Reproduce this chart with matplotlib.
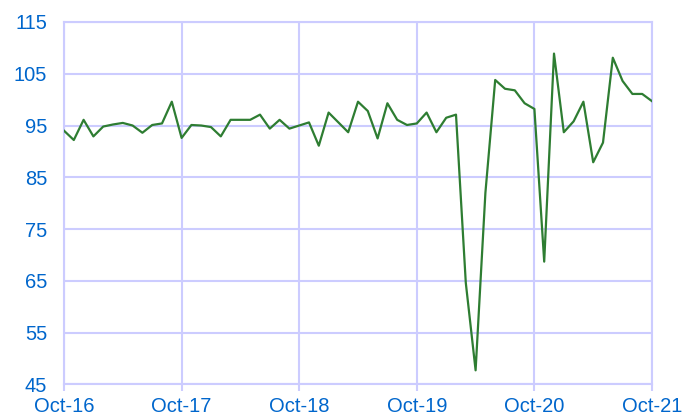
import matplotlib
matplotlib.use("Agg")
import matplotlib.pyplot as plt

# monthly index, Oct-16 .. Oct-21 (61 months)
values = [
    94.0, 92.2, 96.1, 92.9, 94.8, 95.2, 95.5, 95.0, 93.6, 95.1,
    95.4, 99.6, 92.6, 95.1, 95.0, 94.7, 92.9, 96.1, 96.1, 96.1,
    97.1, 94.4, 96.1, 94.4, 95.0, 95.6, 91.1, 97.5, 95.6, 93.7,
    99.6, 97.8, 92.5, 99.3, 96.1, 95.1, 95.4, 97.5, 93.7, 96.5,
    97.1, 64.6, 47.7, 82.0, 103.8, 102.1, 101.8, 99.3, 98.2, 68.7,
    108.9, 93.7, 95.8, 99.6, 87.9, 91.7, 108.1, 103.6, 101.1, 101.1,
    99.7,
]
tick_labels = ['Oct-16', 'Oct-17', 'Oct-18', 'Oct-19', 'Oct-20', 'Oct-21']
y_ticks = [45, 55, 65, 75, 85, 95, 105, 115]

grid_col = '#CCCCFF'
text_col = '#0066CC'

plt.rcParams['font.family'] = ['Liberation Sans', 'DejaVu Sans']

fig = plt.figure(figsize=(6.86, 4.16), dpi=100)
ax = fig.add_axes([64/686, 1 - 384.3/416, 588/686, 362.3/416])

x = list(range(len(values)))
ax.plot(x, values, color='#2E7D32', linewidth=1.6, zorder=3)

ax.set_xlim(0, len(values) - 1)
ax.set_ylim(45, 115)
ax.set_xticks(range(0, len(values), 12))
ax.set_xticklabels(tick_labels)
ax.set_yticks(y_ticks)

ax.grid(True, color=grid_col, linewidth=1.5, zorder=0)
for s in ax.spines.values():
    s.set_color(grid_col)
    s.set_linewidth(1.5)

ax.tick_params(axis='x', colors=grid_col, length=5, width=1.5, pad=4.5,
               labelcolor=text_col, labelsize=14.5)
ax.tick_params(axis='y', length=0, pad=12, labelcolor=text_col, labelsize=14.5)

fig.savefig('out.png', dpi=100)
